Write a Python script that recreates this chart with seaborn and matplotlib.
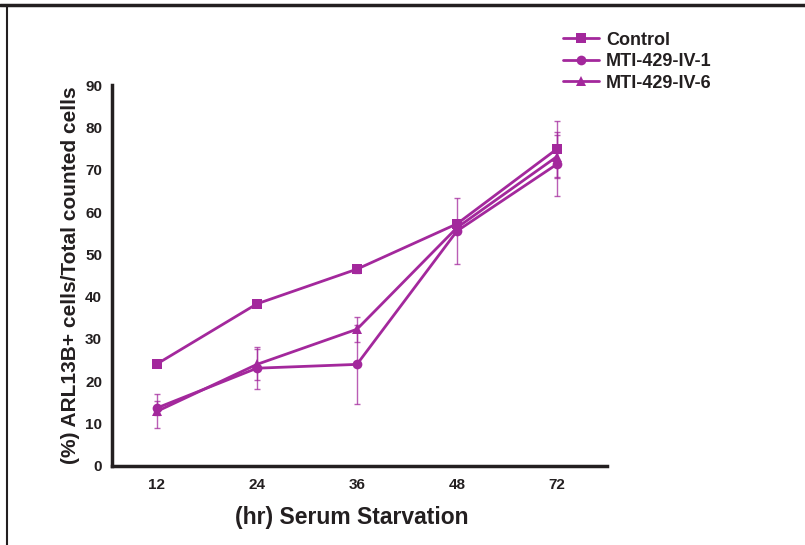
import matplotlib
matplotlib.use('Agg')
import matplotlib.pyplot as plt
import pandas as pd
import seaborn as sns
from matplotlib.lines import Line2D

# Data
hours = ['12', '24', '36', '48', '72']
control = [24.1, 38.3, 46.5, 57.2, 74.9]
control_err = [0.4, 0.6, 1.0, 0.5, 6.6]
iv1 = [13.7, 23.1, 24.0, 55.5, 71.3]
iv1_err = [1.7, 5.0, 9.4, 7.7, 7.6]
iv6 = [12.9, 24.0, 32.3, 56.3, 73.1]
iv6_err = [4.0, 3.6, 3.0, 1.0, 5.0]
series_names = ['Control', 'MTI-429-IV-1', 'MTI-429-IV-6']

df = pd.DataFrame({
    'hour': hours * 3,
    'value': control + iv1 + iv6,
    'err': control_err + iv1_err + iv6_err,
    'group': [n for n in series_names for _ in hours],
})
df['pos'] = df['hour'].map({h: i for i, h in enumerate(hours)})

color = '#a3289c'
dark = '#231f20'
markers = {'Control': 's', 'MTI-429-IV-1': 'o', 'MTI-429-IV-6': '^'}

sns.set_style('white')
plt.rcParams['font.family'] = ['Liberation Sans', 'DejaVu Sans']

fig = plt.figure(figsize=(8.05, 5.45), dpi=100)
ax = fig.add_axes([0.139, 0.145, 0.615, 0.699])

# error bars first (lighter)
for name in series_names:
    d = df[df['group'] == name]
    ax.errorbar(d['pos'], d['value'], yerr=d['err'], fmt='none',
                ecolor=color, elinewidth=1.0, capsize=2.5, capthick=1.0,
                alpha=0.75, zorder=2)

sns.lineplot(data=df, x='pos', y='value', hue='group', style='group',
             markers=markers, dashes=False, palette=[color] * 3,
             markersize=7, markeredgewidth=0, linewidth=2, ax=ax,
             legend=False, zorder=3)

ax.set_xlim(-0.45, 4.5)
ax.set_ylim(0, 90)
ax.set_yticks(range(0, 91, 10))
ax.set_xticks(range(len(hours)))
ax.set_xticklabels(hours)
ax.set_xticks([0.5, 1.5, 2.5, 3.5], minor=True)
ax.tick_params(axis='x', which='major', length=0, pad=9)
ax.tick_params(axis='x', which='minor', length=5, width=1.5, color=dark, direction='out')
ax.tick_params(axis='y', length=5, width=1.5, color=dark, direction='out', pad=2)
for lab in ax.get_xticklabels() + ax.get_yticklabels():
    lab.set_fontweight('bold')
    lab.set_fontsize(11)
    lab.set_color(dark)

for s in ['top', 'right']:
    ax.spines[s].set_visible(False)
for s in ['left', 'bottom']:
    ax.spines[s].set_linewidth(2.5)
    ax.spines[s].set_color(dark)

ax.set_xlabel('(hr) Serum Starvation', fontsize=16.5, fontweight='bold', color=dark)
ax.xaxis.set_label_coords(0.485, -0.106)
ax.set_ylabel('(%) ARL13B+ cells/Total counted cells', fontsize=15, fontweight='bold', color=dark, labelpad=4)

handles = [Line2D([0], [0], color=color, lw=2, marker=markers[n], markersize=7,
                  markeredgewidth=0) for n in series_names]
leg = fig.legend(handles, series_names, loc='upper left', bbox_to_anchor=(0.679, 0.972),
                 frameon=False, fontsize=13, handlelength=2.0, handletextpad=0.4,
                 labelspacing=0.25)
for t in leg.get_texts():
    t.set_fontweight('bold')
    t.set_color(dark)

# page frame lines (top and left)
fig.add_artist(Line2D([0, 1], [0.99, 0.99], transform=fig.transFigure, color=dark, lw=2.5))
fig.add_artist(Line2D([0.009, 0.009], [0, 0.99], transform=fig.transFigure, color=dark, lw=1.5))

fig.savefig('out.png', dpi=100)
